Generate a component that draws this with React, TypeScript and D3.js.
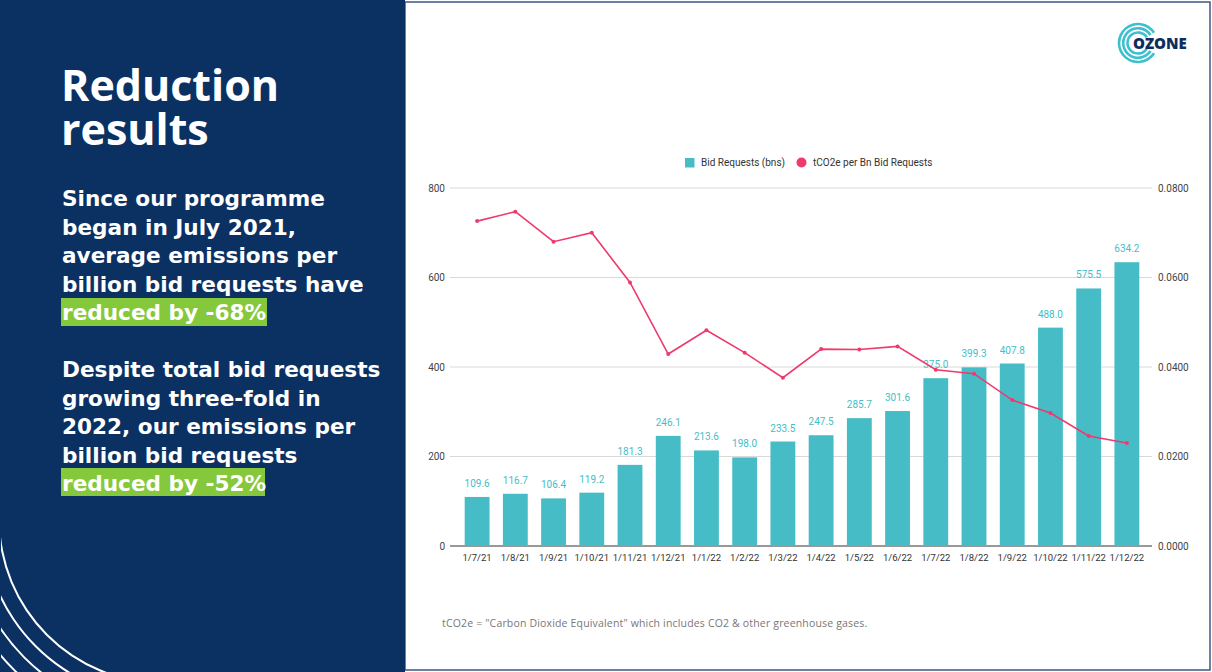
import React from 'react';
import * as d3 from 'd3';

const categories = ['1/7/21','1/8/21','1/9/21','1/10/21','1/11/21','1/12/21','1/1/22','1/2/22','1/3/22','1/4/22','1/5/22','1/6/22','1/7/22','1/8/22','1/9/22','1/10/22','1/11/22','1/12/22'];
const bidRequests = [109.6,116.7,106.4,119.2,181.3,246.1,213.6,198.0,233.5,247.5,285.7,301.6,375.0,399.3,407.8,488.0,575.5,634.2];
const co2PerBn = [0.0726,0.0747,0.0680,0.0700,0.0589,0.0429,0.0482,0.0432,0.0376,0.0440,0.0439,0.0446,0.0394,0.0385,0.0326,0.0297,0.0246,0.0230];
const leftTicks = [0, 200, 400, 600, 800];
const rightTicks = [0, 0.02, 0.04, 0.06, 0.08];
const legendLabels = ['Bid Requests (bns)', 'tCO2e per Bn Bid Requests'];
const titleLines = ['Reduction', 'results'];
const para1 = ['Since our programme', 'began in July 2021,', 'average emissions per', 'billion bid requests have'];
const highlight1 = 'reduced by -68%';
const para2 = ['Despite total bid requests', 'growing three-fold in', '2022, our emissions per', 'billion bid requests'];
const highlight2 = 'reduced by -52%';
const footnote = 'tCO2e = "Carbon Dioxide Equivalent" which includes CO2 & other greenhouse gases.';

const NAVY = '#0b3163';
const TEAL = '#46bdc6';
const PINK = '#ee3a6c';
const GREEN = '#86c83c';

export default function App() {
  const x = d3.scaleBand<string>().domain(categories).range([458, 1146]).paddingInner(0.35).paddingOuter(0.175);
  const yL = d3.scaleLinear().domain([0, 800]).range([546, 188]);
  const yR = d3.scaleLinear().domain([0, 0.08]).range([546, 188]);
  const line = d3.line<number>().x((_, i) => (x(categories[i]) as number) + x.bandwidth() / 2).y(d => yR(d));
  const titleFont = "'Open Sans', sans-serif";
  const bodyFont = "'DejaVu Sans', sans-serif";
  const chartFont = "Roboto, sans-serif";
  const arcR = [164, 180, 196, 212];
  const arcGen = d3.arc<any>();
  const logoR = [10.5, 14.8, 19];
  return (
    <svg width={1212} height={672} style={{ position: 'absolute', left: 0, top: 0 }}>
      <rect x={0} y={0} width={1212} height={672} fill="#ffffff" />
      <rect x={405} y={2} width={805} height={668} fill="#ffffff" stroke="#3f5582" strokeWidth={1.5} />
      <rect x={0} y={0} width={405} height={672} fill={NAVY} />
      <clipPath id="lp"><rect x={1} y={0} width={404} height={672} /></clipPath>
      <g clipPath="url(#lp)">
        {arcR.map((r, i) => (
          <path key={i} transform="translate(163,519)" d={arcGen({ innerRadius: r - 1, outerRadius: r + 1, startAngle: Math.PI, endAngle: Math.PI * 1.5 }) as string} fill="#ffffff" />
        ))}
      </g>
      {titleLines.map((t, i) => (
        <text key={t} x={61} y={101 + i * 44} fill="#fff" fontFamily={titleFont} fontWeight={700} fontSize={43}>{t}</text>
      ))}
      <rect x={61} y={298} width={206} height={28} fill={GREEN} />
      <rect x={61} y={468} width={204} height={28} fill={GREEN} />
      {para1.map((t, i) => (
        <text key={t} x={62} y={206 + i * 28.5} fill="#fff" fontFamily={bodyFont} fontWeight={700} fontSize={21.6}>{t}</text>
      ))}
      <text x={62} y={320} fill="#fff" fontFamily={bodyFont} fontWeight={700} fontSize={21.6}>{highlight1}</text>
      {para2.map((t, i) => (
        <text key={t} x={62} y={377 + i * 28.5} fill="#fff" fontFamily={bodyFont} fontWeight={700} fontSize={21.6}>{t}</text>
      ))}
      <text x={62} y={491} fill="#fff" fontFamily={bodyFont} fontWeight={700} fontSize={21.6}>{highlight2}</text>

      {/* logo */}
      <g transform="translate(1138,43)">
        {logoR.map((r, i) => (
          <path key={i} d={arcGen({ innerRadius: r - 1.3, outerRadius: r + 1.3, startAngle: Math.PI * 0.68, endAngle: Math.PI * 2.32 }) as string} fill="#3cbfcf" />
        ))}
      </g>
      <text x={1133} y={48.5} fill="#0b2e5e" fontFamily={titleFont} fontWeight={800} fontSize={15}>OZONE</text>

      {/* gridlines */}
      {leftTicks.map(t => (
        <line key={t} x1={450} x2={1152} y1={yL(t)} y2={yL(t)} stroke={t === 0 ? '#333' : '#d9d9d9'} strokeWidth={1} />
      ))}
      {leftTicks.map(t => (
        <text key={'l' + t} x={445} y={yL(t) + 3.5} textAnchor="end" fontFamily={chartFont} fontSize={10} fill="#444">{t}</text>
      ))}
      {rightTicks.map(t => (
        <text key={'r' + t} x={1158} y={yR(t) + 3.5} fontFamily={chartFont} fontSize={10} fill="#444">{t.toFixed(4)}</text>
      ))}
      {bidRequests.map((v, i) => (
        <rect key={i} x={x(categories[i])} y={yL(v)} width={x.bandwidth()} height={yL(0) - yL(v)} fill={TEAL} />
      ))}
      {bidRequests.map((v, i) => (
        <text key={'v' + i} x={(x(categories[i]) as number) + x.bandwidth() / 2} y={yL(v) - 10} textAnchor="middle" fontFamily={chartFont} fontSize={10} fill={TEAL}>{v.toFixed(1)}</text>
      ))}
      {categories.map(c => (
        <text key={c} x={(x(c) as number) + x.bandwidth() / 2} y={561} textAnchor="middle" fontFamily={chartFont} fontSize={9.5} fill="#333">{c}</text>
      ))}
      <path d={line(co2PerBn) as string} fill="none" stroke={PINK} strokeWidth={1.6} />
      {co2PerBn.map((v, i) => (
        <circle key={i} cx={(x(categories[i]) as number) + x.bandwidth() / 2} cy={yR(v)} r={2} fill={PINK} />
      ))}
      {/* legend */}
      <rect x={685} y={158} width={9.5} height={9.5} fill={TEAL} />
      <text x={701} y={166} fontFamily={chartFont} fontSize={10} fill="#333">{legendLabels[0]}</text>
      <circle cx={801.5} cy={162.5} r={5} fill={PINK} />
      <text x={813} y={166} fontFamily={chartFont} fontSize={10} fill="#333">{legendLabels[1]}</text>

      <text x={442} y={627} fontFamily={titleFont} fontSize={10.5} letterSpacing={0.17} fill="#777">{footnote}</text>
    </svg>
  );
}
